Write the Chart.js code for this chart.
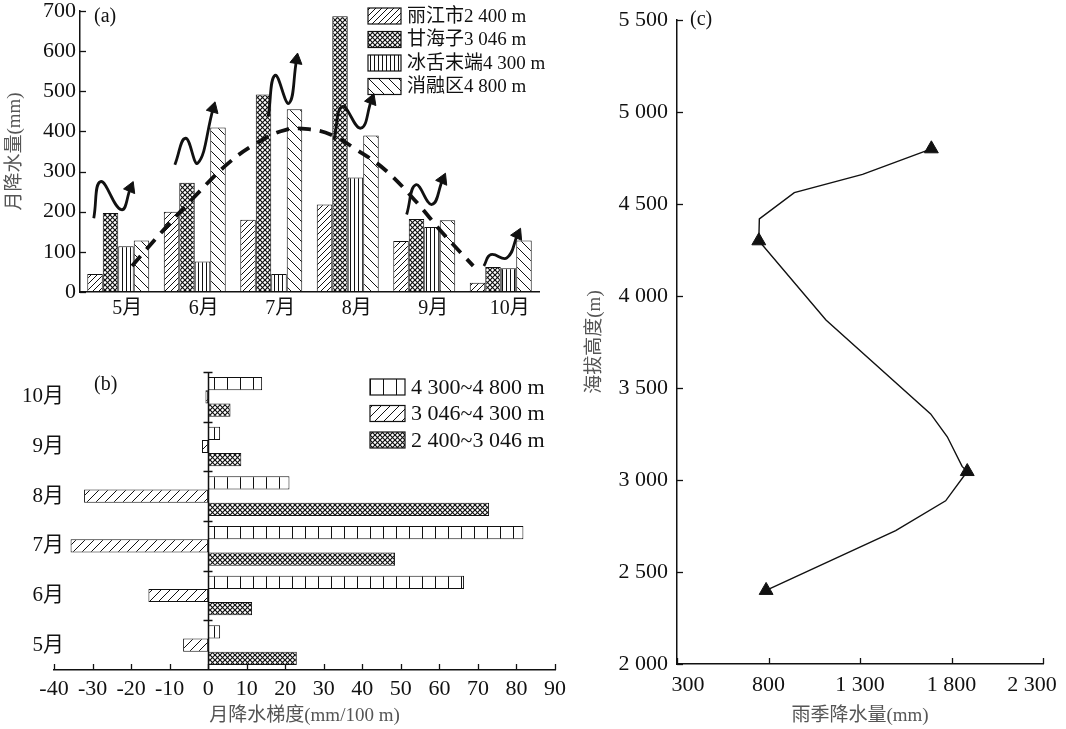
<!DOCTYPE html>
<html><head><meta charset="utf-8">
<script src="https://cdn.jsdelivr.net/npm/chart.js@4.4.1/dist/chart.umd.min.js"></script>
<style>
html,body{margin:0;padding:0;background:#fff;}
#wrap{position:relative;width:1066px;height:729px;overflow:hidden;background:#fff;}
canvas{position:absolute;}
</style></head><body>
<div id="wrap">
<canvas id="ca" width="560" height="330" style="left:0;top:0"></canvas>
<canvas id="ca2" width="560" height="330" style="left:0;top:0"></canvas>
<canvas id="cb" width="575" height="374" style="left:0;top:355px"></canvas>
<canvas id="cc" width="486" height="729" style="left:580px;top:0"></canvas>
</div>
<script>
// ---------- data: panel (a) ----------
const monthsA = ['5月','6月','7月','8月','9月','10月'];
const seriesA = ['丽江市2 400 m','甘海子3 046 m','冰舌末端4 300 m','消融区4 800 m'];
const lijiang  = [45, 200, 180, 218, 127, 23];
const ganhaizi = [197, 272, 492, 687, 182, 62];
const bingshe  = [114, 76, 45, 285, 162, 59];
const xiaorong = [128, 410, 455, 390, 179, 128];
// dashed trend curve (x = month position 0..5, y = mm)
const trendX = [0.18,0.60,1.02,1.44,1.81,2.19,2.51,2.79,3.12,3.49,3.87,4.24,4.64];
const trendY = [65,156,242,321,371,404,405,391,354,304,230,147,65];
// wavy arrows (x = month position, y = mm)
const waveX = [[-0.32,-0.23,0.04,0.16],[0.74,0.88,1.04,1.24],[1.96,2.05,2.23,2.33],[2.82,2.93,3.17,3.31],[3.77,3.89,4.10,4.24],[4.78,4.87,5.08,5.22]];
const waveY = [[184,275,205,259],[317,383,321,457],[437,540,470,578],[379,462,408,478],[193,267,218,280],[65,93,85,143]];

// ---------- data: panel (b) ----------
const monthsB = ['5月','6月','7月','8月','9月','10月'];
const seriesB = ['4 300~4 800 m','3 046~4 300 m','2 400~3 046 m'];
const g4300_4800 = [3.1, 66.4, 81.8, 21.1, 3.1, 14.0];
const g3046_4300 = [-6.5, -15.5, -35.7, -32.2, -1.6, -0.7];
const g2400_3046 = [23.0, 11.4, 48.5, 72.9, 8.6, 5.8];

// ---------- data: panel (c) ----------
const stationRain = [787, 1886, 747, 1690];
const stationAlt  = [2400, 3046, 4300, 4800];
const profileRain = [787,1495,1768,1886,1858,1777,1686,1114,747,750,941,1314,1690];
const profileAlt  = [2400,2725,2887,3046,3074,3235,3359,3870,4300,4419,4562,4661,4800];

// ---------- styles ----------
const FONT = "'Liberation Serif','Noto Sans CJK SC',serif";
const INK = '#111';
const TITLE = '#555';
const waveRot = [23,16,9,21,24,25];

function makePattern(kind, s, lw){
  const c = document.createElement('canvas');
  c.width = s; c.height = s;
  const g = c.getContext('2d');
  g.fillStyle = '#fff'; g.fillRect(0,0,s,s);
  g.strokeStyle = INK; g.fillStyle = INK; g.lineWidth = lw;
  const line = (a,b,c2,d)=>{g.beginPath();g.moveTo(a,b);g.lineTo(c2,d);g.stroke();};
  if (kind==='fwd' || kind==='cross'){
    line(-1,s+1,s+1,-1); line(-s/2-1,s/2+1,s/2+1,-s/2-1); line(s/2-1,3*s/2+1,3*s/2+1,s/2-1);
  }
  if (kind==='back' || kind==='cross'){
    line(-1,-1,s+1,s+1); line(-s/2-1,s/2-1,s/2+1,3*s/2+1); line(s/2-1,-s/2-1,3*s/2+1,s/2+1);
  }
  if (kind==='vert'){ g.fillRect(Math.floor(s/2), 0, lw, s); }
  return g.createPattern(c,'repeat');
}
const pFwd   = makePattern('fwd', 6, 1);
const pCross = makePattern('cross', 5, 1.2);
const pVert  = makePattern('vert', 4, 1);
const pBack  = makePattern('back', 10, 1);
const pBox   = makePattern('vert', 13, 1);
const pFwd9  = makePattern('fwd', 9, 1);

const fmtSpace = v => { const s = String(v); return s.length > 3 ? s.slice(0,-3)+' '+s.slice(-3) : s; };
const noOverflow = s => { s.paddingLeft = 0; s.paddingRight = 0; s.paddingTop = 0; s.paddingBottom = 0; };

function drawLegend(chart, x, y0, dy, bw, bh, size){
  const ctx = chart.ctx;
  ctx.save();
  ctx.font = size + 'px ' + FONT;
  ctx.textBaseline = 'middle';
  ctx.textAlign = 'left';
  chart.data.datasets.forEach((d, i) => {
    const y = y0 + i*dy;
    ctx.fillStyle = d.backgroundColor;
    ctx.fillRect(x, y - bh/2, bw, bh);
    ctx.strokeStyle = INK; ctx.lineWidth = 1.2;
    ctx.strokeRect(x, y - bh/2, bw, bh);
    ctx.fillStyle = INK;
    ctx.fillText(d.label, x + bw + 6, y + 1);
  });
  ctx.restore();
}
function panelLabel(chart, txt, x, y){
  const ctx = chart.ctx; ctx.save();
  ctx.font = '20px ' + FONT; ctx.fillStyle = INK; ctx.textBaseline = 'middle';
  ctx.fillText(txt, x, y); ctx.restore();
}
function ticksY(chart, id, len){
  const s = chart.scales[id], ctx = chart.ctx; ctx.save();
  ctx.strokeStyle = INK; ctx.lineWidth = 1.3;
  s.ticks.forEach(t => { const y = Math.round(s.getPixelForValue(t.value))+0.5; ctx.beginPath(); ctx.moveTo(s.right, y); ctx.lineTo(s.right+len, y); ctx.stroke(); });
  ctx.restore();
}
function ticksX(chart, id, len){
  const s = chart.scales[id], ctx = chart.ctx; ctx.save();
  ctx.strokeStyle = INK; ctx.lineWidth = 1.3;
  s.ticks.forEach(t => { const x = Math.round(s.getPixelForValue(t.value))+0.5; ctx.beginPath(); ctx.moveTo(x, s.top); ctx.lineTo(x, s.top-len); ctx.stroke(); });
  ctx.restore();
}

// ---------- chart (a): bars ----------
const barA = (label, data, bg) => ({label, data, backgroundColor: bg, borderColor: INK, borderWidth: 1, borderSkipped: false});
const chartA = new Chart(document.getElementById('ca'), {
  type: 'bar',
  data: {
    labels: monthsA,
    datasets: [
      barA(seriesA[0], lijiang, pFwd),
      barA(seriesA[1], ganhaizi, pCross),
      barA(seriesA[2], bingshe, pVert),
      barA(seriesA[3], xiaorong, pBack)
    ]
  },
  options: {
    responsive: false, animation: false,
    datasets: {bar: {barPercentage: 1, categoryPercentage: 0.81}},
    layout: {padding: {left: 0, right: 21, top: 11, bottom: 0}},
    plugins: {legend: {display: false}, tooltip: {enabled: false}},
    scales: {
      x: {type: 'category', offset: true, grid: {display: false, drawTicks: false},
          border: {display: true, color: INK, width: 1.5},
          ticks: {font: {family: FONT, size: 20}, color: INK, padding: 5, labelOffset: 9},
          afterFit(s){ s.height = 38; noOverflow(s); }},
      y: {min: 0, max: 700, grid: {display: false, drawTicks: false},
          border: {display: true, color: INK, width: 1.5},
          ticks: {stepSize: 100, font: {family: FONT, size: 22, lineHeight: 1}, color: INK, padding: 4},
          title: {display: true, text: '月降水量(mm)', color: TITLE, font: {family: FONT, size: 19}, padding: {top: 4}},
          afterFit(s){ s.width = 80; noOverflow(s); }}
    }
  },
  plugins: [{id: 'decoA', afterDraw(chart){
    ticksY(chart, 'y', 6);
    panelLabel(chart, '(a)', 94, 17);
    drawLegend(chart, 368, 16, 23.5, 33, 16, 19);
  }}]
});

// ---------- chart (a): overlay trend + wavy arrows on the same plot box ----------
const areaA = chartA.chartArea;
const waveSets = waveX.map((xs, k) => ({
  label: 'wave', data: xs.map((x, i) => ({x, y: waveY[k][i]})),
  showLine: true, borderColor: INK, borderWidth: 2.8, tension: 0.45, fill: false,
  pointRadius: xs.map((_, i) => i === xs.length-1 ? 7 : 0),
  pointStyle: 'triangle', pointRotation: waveRot[k],
  pointBackgroundColor: INK, pointBorderColor: INK, pointBorderWidth: 1
}));
new Chart(document.getElementById('ca2'), {
  type: 'scatter',
  data: {datasets: [
    {label: 'trend', data: trendX.map((x, i) => ({x, y: trendY[i]})), showLine: true,
     borderColor: INK, borderWidth: 3.8, borderDash: [13, 9], tension: 0.4, pointRadius: 0, fill: false},
    ...waveSets
  ]},
  options: {
    responsive: false, animation: false,
    layout: {padding: {left: areaA.left, top: areaA.top, right: chartA.width - areaA.right, bottom: chartA.height - areaA.bottom}},
    plugins: {legend: {display: false}, tooltip: {enabled: false}},
    scales: {
      x: {type: 'linear', min: -0.5, max: 5.5, display: false},
      y: {type: 'linear', min: 0, max: 700, display: false}
    }
  }
});

// ---------- chart (b) ----------
const barB = (label, data, bg) => ({label, data, backgroundColor: bg, borderColor: INK, borderWidth: 1, borderSkipped: false});
new Chart(document.getElementById('cb'), {
  type: 'bar',
  data: {labels: monthsB, datasets: [
    barB(seriesB[0], g4300_4800, pBox),
    barB(seriesB[1], g3046_4300, pFwd9),
    barB(seriesB[2], g2400_3046, pCross)
  ]},
  options: {
    indexAxis: 'y', responsive: false, animation: false,
    datasets: {bar: {barPercentage: 1, categoryPercentage: 0.8}},
    layout: {padding: {left: 0, right: 20, top: 17, bottom: 0}},
    plugins: {legend: {display: false}, tooltip: {enabled: false}},
    scales: {
      x: {min: -40, max: 90, grid: {display: false, drawTicks: false},
          border: {display: true, color: INK, width: 1.5},
          ticks: {stepSize: 10, font: {family: FONT, size: 22}, color: INK, padding: 6},
          title: {display: true, text: '月降水梯度(mm/100 m)', color: TITLE, font: {family: FONT, size: 19}, padding: {bottom: 2}},
          afterFit(s){ s.height = 59; noOverflow(s); }},
      y: {reverse: true, offset: true, grid: {display: false, drawTicks: false}, border: {display: false},
          ticks: {display: false},
          afterFit(s){ s.width = 54; noOverflow(s); }}
    }
  },
  plugins: [{id: 'decoB', afterDraw(chart){
    const ctx = chart.ctx, xs = chart.scales.x, ys = chart.scales.y, a = chart.chartArea;
    ticksX(chart, 'x', 6);
    const x0 = Math.round(xs.getPixelForValue(0)) + 0.5;
    ctx.save(); ctx.strokeStyle = INK; ctx.lineWidth = 1.5;
    ctx.beginPath(); ctx.moveTo(x0, a.top); ctx.lineTo(x0, a.bottom); ctx.stroke();
    const n = chart.data.labels.length, step = (a.bottom - a.top) / n;
    for (let i = 0; i < n; i++){ const y = Math.round(a.top + i*step)+0.5; ctx.beginPath(); ctx.moveTo(x0-5, y); ctx.lineTo(x0+4, y); ctx.stroke(); }
    // month labels of the category axis, right-aligned left of the plot
    ctx.font = '21px ' + FONT; ctx.fillStyle = INK; ctx.textAlign = 'right'; ctx.textBaseline = 'middle';
    chart.data.labels.forEach((lab, i) => ctx.fillText(lab, 64, ys.getPixelForValue(i)));
    ctx.restore();
    panelLabel(chart, '(b)', 94, 30);
    drawLegend(chart, 370, 32, 26.5, 35, 16, 22);
  }}]
});

// ---------- chart (c) ----------
new Chart(document.getElementById('cc'), {
  type: 'scatter',
  data: {datasets: [
    {label: 'profile', data: profileRain.map((x, i) => ({x, y: profileAlt[i]})), showLine: true,
     borderColor: INK, borderWidth: 1.4, tension: 0, pointRadius: 0, fill: false},
    {label: 'stations', data: stationRain.map((x, i) => ({x, y: stationAlt[i]})),
     pointStyle: 'triangle', pointRadius: 8, backgroundColor: INK, borderColor: INK}
  ]},
  options: {
    responsive: false, animation: false,
    layout: {padding: {left: 0, right: 23, top: 20, bottom: 0}},
    plugins: {legend: {display: false}, tooltip: {enabled: false}},
    scales: {
      x: {type: 'linear', min: 300, max: 2300, grid: {display: false, drawTicks: false},
          border: {display: true, color: INK, width: 1.5},
          ticks: {stepSize: 500, font: {family: FONT, size: 22}, color: INK, padding: 8,
                  callback: (v, i, t) => i === 0 ? '\u2002\u2002' + fmtSpace(v) : (i === t.length - 1 ? fmtSpace(v) + '\u2002\u2002' : fmtSpace(v))},
          title: {display: true, text: '雨季降水量(mm)', color: TITLE, font: {family: FONT, size: 19}, padding: {bottom: 2}},
          afterFit(s){ s.height = 65; noOverflow(s); }},
      y: {type: 'linear', min: 2000, max: 5500, grid: {display: false, drawTicks: false},
          border: {display: true, color: INK, width: 1.5},
          ticks: {stepSize: 500, callback: fmtSpace, font: {family: FONT, size: 22}, color: INK, padding: 9},
          title: {display: true, text: '海拔高度(m)', color: TITLE, font: {family: FONT, size: 19}, padding: {top: 4}},
          afterFit(s){ s.width = 97; noOverflow(s); }}
    }
  },
  plugins: [{id: 'decoC', afterDraw(chart){
    ticksY(chart, 'y', 6);
    ticksX(chart, 'x', 6);
    panelLabel(chart, '(c)', 110, 20);
  }}]
});
</script>
</body></html>
